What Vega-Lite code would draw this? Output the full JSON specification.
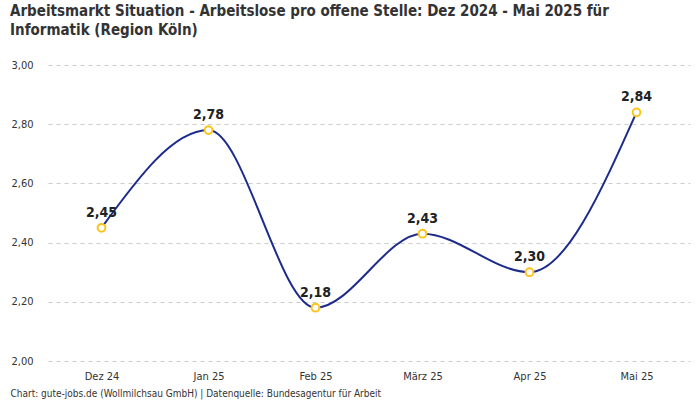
{
  "$schema": "https://vega.github.io/schema/vega-lite/v6.json",
  "width": 642,
  "height": 296,
  "autosize": {"type": "none"},
  "padding": {"left": 48, "top": 65, "right": 10, "bottom": 39},
  "background": "white",
  "title": {
    "text": ["Arbeitsmarkt Situation - Arbeitslose pro offene Stelle: Dez 2024 - Mai 2025 für", "Informatik (Region Köln)"],
    "anchor": "start",
    "frame": "group",
    "dx": -38,
    "offset": 21,
    "fontSize": 15,
    "fontWeight": "bold",
    "font": "Liberation Sans Narrow, DejaVu Sans Condensed, Roboto",
    "color": "#333333",
    "lineHeight": 19
  },
  "config": {
    "locale": {"number": {"decimal": ",", "thousands": ".", "grouping": [3], "currency": ["", " €"]}},
    "view": {"stroke": null},
    "font": "Liberation Sans Narrow, DejaVu Sans Condensed, Roboto"
  },
  "data": {
    "values": [
      {"monat": "Dez 24", "wert": 2.45},
      {"monat": "Jan 25", "wert": 2.78},
      {"monat": "Feb 25", "wert": 2.18},
      {"monat": "März 25", "wert": 2.43},
      {"monat": "Apr 25", "wert": 2.30},
      {"monat": "Mai 25", "wert": 2.84}
    ]
  },
  "encoding": {
    "x": {
      "field": "monat",
      "type": "ordinal",
      "sort": null,
      "scale": {"type": "point", "padding": 0.5},
      "axis": {
        "labelAngle": 0,
        "domain": false,
        "ticks": false,
        "labelPadding": 9,
        "labelFontSize": 11,
        "labelColor": "#333333",
        "title": "Chart: gute-jobs.de (Wollmilchsau GmbH) | Datenquelle: Bundesagentur für Arbeit",
        "titleAnchor": "start",
        "titleAlign": "left",
        "titleX": -38,
        "titleY": 32,
        "titleBaseline": "middle",
        "titleFontSize": 10,
        "titleFontWeight": "normal",
        "titleColor": "#333333"
      }
    },
    "y": {
      "field": "wert",
      "type": "quantitative",
      "scale": {"domain": [2, 3], "nice": false, "zero": false},
      "axis": {
        "values": [2, 2.2, 2.4, 2.6, 2.8, 3],
        "format": ".2f",
        "domain": false,
        "ticks": false,
        "labelPadding": 15,
        "labelFontSize": 11,
        "labelColor": "#333333",
        "gridColor": "#cccccc",
        "gridDash": [4, 4],
        "title": null
      }
    }
  },
  "layer": [
    {
      "mark": {"type": "line", "interpolate": "monotone", "color": "#1c2b8c", "strokeWidth": 2}
    },
    {
      "mark": {"type": "point", "shape": "circle", "filled": false, "fill": "white", "stroke": "#fcc419", "strokeWidth": 2, "size": 60, "opacity": 1}
    },
    {
      "mark": {"type": "text", "dy": -15, "fontSize": 14, "fontWeight": "bold", "color": "#222222"},
      "encoding": {"text": {"field": "wert", "type": "quantitative", "format": ".2f"}}
    }
  ]
}
